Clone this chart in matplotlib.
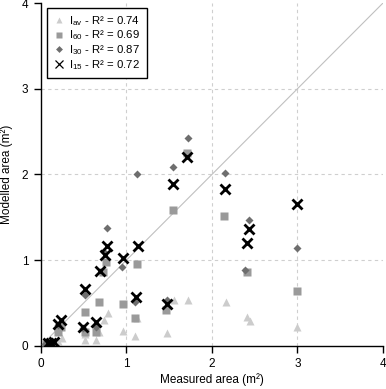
import numpy as np
import matplotlib
matplotlib.use("Agg")
import matplotlib.pyplot as plt
from matplotlib.lines import Line2D

plt.rcParams["font.family"] = ["Liberation Sans", "DejaVu Sans"]
plt.rcParams["mathtext.fontset"] = "custom"
plt.rcParams["mathtext.rm"] = "Liberation Sans"
plt.rcParams["mathtext.it"] = "Liberation Sans"

# ---------------------------------------------------------------------------
# Data
# ---------------------------------------------------------------------------
iav_x = [0.04, 0.20, 0.25, 0.51, 0.51, 0.64, 0.68, 0.74, 0.78, 0.96, 1.10, 1.12,
         1.47, 1.56, 1.72, 2.16, 2.41, 2.44, 3.00]
iav_y = [0.01, 0.06, 0.09, 0.07, 0.14, 0.07, 0.16, 0.30, 0.38, 0.17, 0.12, 0.33,
         0.15, 0.53, 0.53, 0.51, 0.34, 0.29, 0.22]

i60_x = [0.06, 0.10, 0.20, 0.24, 0.51, 0.51, 0.64, 0.68, 0.73, 0.76, 0.96, 1.10,
         1.12, 1.46, 1.54, 1.71, 2.14, 2.41, 3.00]
i60_y = [0.02, 0.03, 0.16, 0.22, 0.16, 0.39, 0.16, 0.51, 0.86, 0.98, 0.49, 0.32,
         0.96, 0.42, 1.59, 2.25, 1.52, 0.86, 0.64]

i30_x = [0.05, 0.10, 0.20, 0.49, 0.64, 0.51, 0.74, 0.77, 0.95, 1.10, 1.12, 1.47,
         1.54, 1.72, 2.15, 2.43, 2.39, 2.99]
i30_y = [0.02, 0.03, 0.24, 0.21, 0.22, 0.59, 1.10, 1.37, 0.92, 0.51, 2.00, 0.53,
         2.09, 2.43, 2.02, 1.47, 0.89, 1.14]

i15_x = [0.08, 0.12, 0.15, 0.20, 0.24, 0.49, 0.64, 0.51, 0.69, 0.75, 0.77, 0.96,
         1.13, 1.11, 1.47, 1.54, 1.71, 2.15, 2.43, 2.41, 3.00]
i15_y = [0.03, 0.03, 0.04, 0.26, 0.30, 0.22, 0.28, 0.66, 0.87, 1.06, 1.17, 1.03,
         1.17, 0.57, 0.49, 1.89, 2.20, 1.83, 1.36, 1.20, 1.65]

labels = ["I$_{\\mathrm{av}}$ - R² = 0.74",
          "I$_{\\mathrm{60}}$ - R² = 0.69",
          "I$_{\\mathrm{30}}$ - R² = 0.87",
          "I$_{\\mathrm{15}}$ - R² = 0.72"]
ticks = [0, 1, 2, 3, 4]

# ---------------------------------------------------------------------------
# Plot
# ---------------------------------------------------------------------------
fig = plt.figure(figsize=(3.86, 3.89), dpi=100)
ax = fig.add_axes([0.106, 0.111, 0.886, 0.881])

ax.plot([0, 4], [0, 4], color="#c0c0c0", lw=0.8, zorder=1)

ax.plot(iav_x, iav_y, ls="none", marker="^", ms=5.5, color="#cccccc",
        mec="none", zorder=2)
ax.plot(i60_x, i60_y, ls="none", marker="s", ms=5.5, color="#9a9a9a",
        mec="none", zorder=3)
ax.plot(i30_x, i30_y, ls="none", marker="D", ms=4.5, color="#6e6e6e",
        mec="none", zorder=4)
ax.plot(i15_x, i15_y, ls="none", marker="x", ms=6.5, mew=2.0, color="black",
        zorder=5)

ax.set_xlim(0, 4)
ax.set_ylim(0, 4)
ax.set_xticks(ticks)
ax.set_yticks(ticks)
ax.tick_params(direction="out", length=5, width=1, labelsize=8.5, pad=4)
for side in ("top", "right"):
    ax.spines[side].set_visible(False)
for side in ("left", "bottom"):
    ax.spines[side].set_linewidth(1.0)

for v in [1, 2, 3]:
    ax.axvline(v, color="#cfcfcf", lw=0.8, ls=(0, (3, 3)), zorder=0)
    ax.axhline(v, color="#cfcfcf", lw=0.8, ls=(0, (3, 3)), zorder=0)

ax.set_xlabel("Measured area (m²)", fontsize=8.5, labelpad=2)
ax.set_ylabel("Modelled area (m²)", fontsize=8.5, labelpad=6)

handles = [
    Line2D([], [], ls="none", marker="^", ms=5, color="#cccccc", mec="none"),
    Line2D([], [], ls="none", marker="s", ms=5, color="#9a9a9a", mec="none"),
    Line2D([], [], ls="none", marker="D", ms=3.5, color="#6e6e6e", mec="none"),
    Line2D([], [], ls="none", marker="x", ms=6, mew=0.9, color="black"),
]
leg = ax.legend(handles, labels, loc="upper left", fontsize=8.2,
                bbox_to_anchor=(0.005, 1.0), frameon=True, fancybox=False,
                edgecolor="black", framealpha=1, handlelength=1.0,
                handletextpad=0.4, labelspacing=0.08, borderpad=0.55,
                borderaxespad=0.4)
leg.get_frame().set_linewidth(1.0)

fig.savefig("out.png", dpi=100, facecolor="white")
